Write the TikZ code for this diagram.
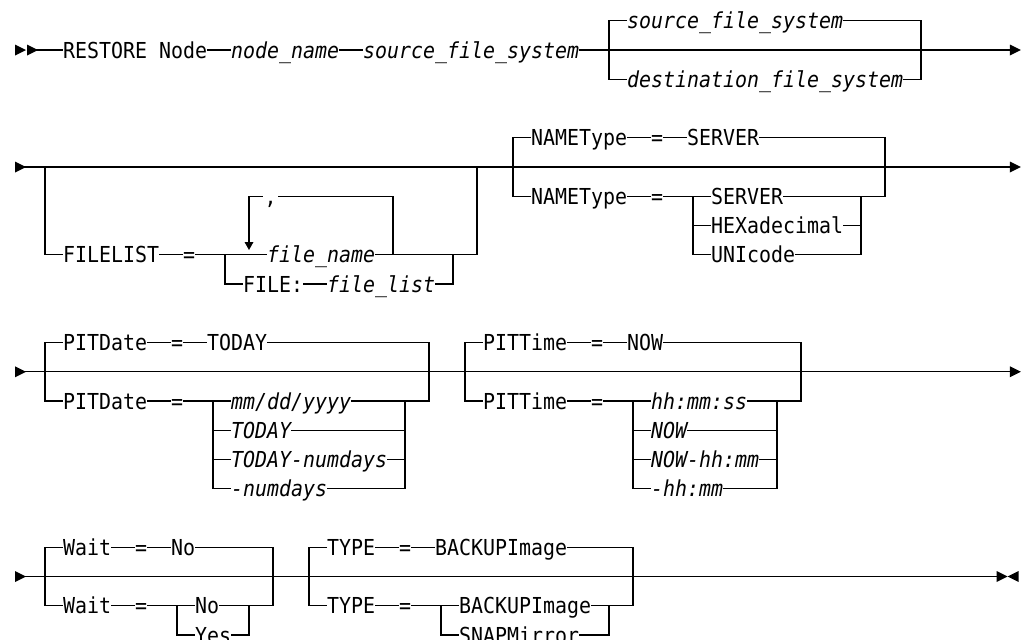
\documentclass[tikz,border=0pt]{standalone}
\usepackage{fontspec}
\newfontfamily\synfam[FakeStretch=0.906]{DejaVu Sans Mono}
\newcommand{\synfont}{\synfam\fontsize{22pt}{26pt}\selectfont}
\tikzset{
  kw/.style={font=\synfont, anchor=west, inner sep=0pt, text height=16pt, text depth=0pt},
  var/.style={kw, font=\synfont\itshape},
  rail/.style={line width=1.2pt}
}
\newcommand{\railtip}[1]{\fill[shift={(#1)}] (0pt,5.5pt) -- (11pt,0pt) -- (0pt,-5.5pt) -- cycle;}
\newcommand{\railstop}[1]{\fill[shift={(#1)}] (0pt,5.5pt) -- (11pt,0pt) -- (0pt,-5.5pt) -- cycle;
  \fill[shift={(#1)}] (22pt,5.5pt) -- (11pt,0pt) -- (22pt,-5.5pt) -- cycle;}
\newcommand{\raildown}[1]{\fill[shift={(#1)}] (-4.5pt,0pt) -- (4.5pt,0pt) -- (0pt,-8pt) -- cycle;}

\begin{document}
\begin{tikzpicture}[x=12pt, y=-29.25pt]
		\useasboundingbox (-1.25,-1.7094) rectangle (84,20.1709);
		% RESTORE Node
		\coordinate (st1) at (0,0);
		\coordinate (st1b) at (1,0);
		\railtip{st1}
		\railtip{st1b}
		\node[kw] (restore) at (4,0) {RESTORE Node};
		\node[var] (nodename) at (18,0) {node\_name};
		\node[var] (srcfs) at (29,0) {source\_file\_system};
		\coordinate (end1) at (82.9,0);
		\draw[rail] (st1b) -- (restore.west);
		\draw[rail] (restore.east) -- (nodename.west);
		\draw[rail] (nodename.east) -- (srcfs.west);
		\draw[rail] (srcfs.east) -- (end1);
		\railtip{end1}
		\coordinate (b1l) at (49.5,0);
		\coordinate (b1r) at (75.5,0);
		\node[var] (srcdef) at (51,-1) {source\_file\_system};
		\node[var] (dstfs) at (51,1) {destination\_file\_system};
		\draw[rail] (srcdef.west) -| (b1l) |- (dstfs.west);
		\draw[rail] (srcdef.east) -| (b1r) |- (dstfs.east);
		% FILELIST
		\coordinate (st2) at (0,4);
		\coordinate (end2) at (82.9,4);
		\railtip{st2}
		\draw[rail] (st2) -- (end2);
		\railtip{end2}
		\coordinate (b2l) at (2.5,4);
		\coordinate (b2r) at (38.5,4);
		\node[kw] (filelist) at (4,7) {FILELIST};
		\node[kw] (eqfl) at (14,7) {=};
		\node[var] (fname) at (21,7) {file\_name};
		\node[kw] (filekw) at (19,8) {FILE:};
		\node[var] (flist) at (26,8) {file\_list};
		\coordinate (c2l) at (17.5,7);
		\coordinate (c2r) at (36.5,7);
		\coordinate (lpl) at (19.5,6.564);
		\coordinate (lpr) at (31.5,7);
		\node[kw, anchor=center, minimum width=15pt] (comma) at (21.3,5) {,};
		\draw[rail] (b2l) |- (filelist.west);
		\draw[rail] (filelist.east) -- (eqfl.west);
		\draw[rail] (eqfl.east) -- (fname.west);
		\draw[rail] (fname.east) -| (b2r);
		\draw[rail] (c2l) |- (filekw.west);
		\draw[rail] (filekw.east) -- (flist.west);
		\draw[rail] (flist.east) -| (c2r);
		\draw[rail] (lpr) |- (comma.east);
		\draw[rail] (comma.west) -| (lpl);
		\raildown{lpl}
		% NAMEType
		\coordinate (b3l) at (41.5,4);
		\coordinate (b3r) at (72.5,4);
		\node[kw] (nt1) at (43,3) {NAMEType};
		\node[kw] (eqnt1) at (53,3) {=};
		\node[kw] (srv1) at (56,3) {SERVER};
		\node[kw] (nt2) at (43,5) {NAMEType};
		\node[kw] (eqnt2) at (53,5) {=};
		\node[kw] (srv2) at (58,5) {SERVER};
		\node[kw] (hex) at (58,6) {HEXadecimal};
		\node[kw] (uni) at (58,7) {UNIcode};
		\coordinate (c3l) at (56.5,5);
		\coordinate (c3r) at (70.5,5);
		\draw[rail] (nt1.west) -| (b3l) |- (nt2.west);
		\draw[rail] (nt1.east) -- (eqnt1.west);
		\draw[rail] (eqnt1.east) -- (srv1.west);
		\draw[rail] (srv1.east) -| (b3r) |- (srv2.east);
		\draw[rail] (nt2.east) -- (eqnt2.west);
		\draw[rail] (eqnt2.east) -- (srv2.west);
		\draw[rail] (c3l) |- (hex.west);
		\draw[rail] (c3l) |- (uni.west);
		\draw[rail] (hex.east) -| (c3r);
		\draw[rail] (uni.east) -| (c3r);
		% PITDate
		\coordinate (st3) at (0,11);
		\coordinate (end3) at (82.9,11);
		\railtip{st3}
		\draw[rail] (st3) -- (end3);
		\railtip{end3}
		\coordinate (b4l) at (2.5,11);
		\coordinate (b4r) at (34.5,11);
		\node[kw] (pd1) at (4,10) {PITDate};
		\node[kw] (eqpd1) at (13,10) {=};
		\node[kw] (tdy1) at (16,10) {TODAY};
		\node[kw] (pd2) at (4,12) {PITDate};
		\node[kw] (eqpd2) at (13,12) {=};
		\node[var] (mdy) at (18,12) {mm/dd/yyyy};
		\node[var] (tdy2) at (18,13) {TODAY};
		\node[var] (tdyn) at (18,14) {TODAY-numdays};
		\node[var] (ndays) at (18,15) {-numdays};
		\coordinate (c4l) at (16.5,12);
		\coordinate (c4r) at (32.5,12);
		\draw[rail] (pd1.west) -| (b4l) |- (pd2.west);
		\draw[rail] (pd1.east) -- (eqpd1.west);
		\draw[rail] (eqpd1.east) -- (tdy1.west);
		\draw[rail] (tdy1.east) -| (b4r) |- (mdy.east);
		\draw[rail] (pd2.east) -- (eqpd2.west);
		\draw[rail] (eqpd2.east) -- (mdy.west);
		\draw[rail] (c4l) |- (tdy2.west);
		\draw[rail] (c4l) |- (tdyn.west);
		\draw[rail] (c4l) |- (ndays.west);
		\draw[rail] (tdy2.east) -| (c4r);
		\draw[rail] (tdyn.east) -| (c4r);
		\draw[rail] (ndays.east) -| (c4r);
		% PITTime
		\coordinate (b5l) at (37.5,11);
		\coordinate (b5r) at (65.5,11);
		\node[kw] (pt1) at (39,10) {PITTime};
		\node[kw] (eqpt1) at (48,10) {=};
		\node[kw] (now1) at (51,10) {NOW};
		\node[kw] (pt2) at (39,12) {PITTime};
		\node[kw] (eqpt2) at (48,12) {=};
		\node[var] (hms) at (53,12) {hh:mm:ss};
		\node[var] (now2) at (53,13) {NOW};
		\node[var] (nowhm) at (53,14) {NOW-hh:mm};
		\node[var] (hm) at (53,15) {-hh:mm};
		\coordinate (c5l) at (51.5,12);
		\coordinate (c5r) at (63.5,12);
		\draw[rail] (pt1.west) -| (b5l) |- (pt2.west);
		\draw[rail] (pt1.east) -- (eqpt1.west);
		\draw[rail] (eqpt1.east) -- (now1.west);
		\draw[rail] (now1.east) -| (b5r) |- (hms.east);
		\draw[rail] (pt2.east) -- (eqpt2.west);
		\draw[rail] (eqpt2.east) -- (hms.west);
		\draw[rail] (c5l) |- (now2.west);
		\draw[rail] (c5l) |- (nowhm.west);
		\draw[rail] (c5l) |- (hm.west);
		\draw[rail] (now2.east) -| (c5r);
		\draw[rail] (nowhm.east) -| (c5r);
		\draw[rail] (hm.east) -| (c5r);
		% Wait
		\coordinate (st4) at (0,18);
		\coordinate (end4) at (81.8,18);
		\railtip{st4}
		\draw[rail] (st4) -- (end4);
		\railstop{end4}
		\coordinate (b6l) at (2.5,18);
		\coordinate (b6r) at (21.5,18);
		\node[kw] (w1) at (4,17) {Wait};
		\node[kw] (eqw1) at (10,17) {=};
		\node[kw] (no1) at (13,17) {No};
		\node[kw] (w2) at (4,19) {Wait};
		\node[kw] (eqw2) at (10,19) {=};
		\node[kw] (no2) at (15,19) {No};
		\node[kw] (yes) at (15,20) {Yes};
		\coordinate (c6l) at (13.5,19);
		\coordinate (c6r) at (19.5,19);
		\draw[rail] (w1.west) -| (b6l) |- (w2.west);
		\draw[rail] (w1.east) -- (eqw1.west);
		\draw[rail] (eqw1.east) -- (no1.west);
		\draw[rail] (no1.east) -| (b6r) |- (no2.east);
		\draw[rail] (w2.east) -- (eqw2.west);
		\draw[rail] (eqw2.east) -- (no2.west);
		\draw[rail] (c6l) |- (yes.west);
		\draw[rail] (yes.east) -| (c6r);
		% TYPE
		\coordinate (b7l) at (24.5,18);
		\coordinate (b7r) at (51.5,18);
		\node[kw] (ty1) at (26,17) {TYPE};
		\node[kw] (eqty1) at (32,17) {=};
		\node[kw] (bk1) at (35,17) {BACKUPImage};
		\node[kw] (ty2) at (26,19) {TYPE};
		\node[kw] (eqty2) at (32,19) {=};
		\node[kw] (bk2) at (37,19) {BACKUPImage};
		\node[kw] (snap) at (37,20) {SNAPMirror};
		\coordinate (c7l) at (35.5,19);
		\coordinate (c7r) at (49.5,19);
		\draw[rail] (ty1.west) -| (b7l) |- (ty2.west);
		\draw[rail] (ty1.east) -- (eqty1.west);
		\draw[rail] (eqty1.east) -- (bk1.west);
		\draw[rail] (bk1.east) -| (b7r) |- (bk2.east);
		\draw[rail] (ty2.east) -- (eqty2.west);
		\draw[rail] (eqty2.east) -- (bk2.west);
		\draw[rail] (c7l) |- (snap.west);
		\draw[rail] (snap.east) -| (c7r);
	\end{tikzpicture}
\end{document}
